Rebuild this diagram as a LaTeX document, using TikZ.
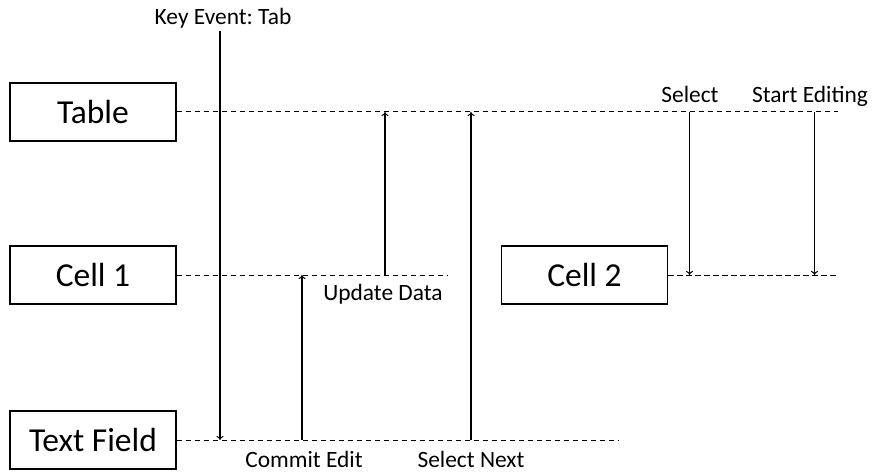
\documentclass[tikz,border=0pt]{standalone}
\usepackage{fontspec}
\setmainfont{Carlito}
\usetikzlibrary{arrows.meta}
\frenchspacing
\begin{document}
\begin{tikzpicture}[x=1pt,y=-1pt,
  obj/.style={draw,line width=1.1pt,minimum width=166pt,minimum height=58pt,
    inner sep=0pt,font=\fontsize{33.5}{36}\selectfont},
  life/.style={line width=1pt,dash pattern=on 5.5pt off 3.5pt},
  msg/.style={line width=1.2pt,-{To[length=4pt,width=7pt,line width=1pt]}},
  lbl/.style={anchor=base,inner sep=0pt,font=\fontsize{23.4}{26}\selectfont}]
  \useasboundingbox (0,0) rectangle (875,473);

  % objects
  \node[obj] (table) at (93,112) {Table};
  \node[obj] (cell1) at (93,275) {Cell 1};
  \node[obj] (tf)    at (93,440) {Text Field};
  \node[obj] (cell2) at (584.5,275) {Cell 2};

  % lifeline ends
  \coordinate (tableEnd) at (838,112);
  \coordinate (cell1End) at (448,275);
  \coordinate (tfEnd)    at (618,440);
  \coordinate (cell2End) at (838,275);

  \draw[life] (table.east) -- (tableEnd);
  \draw[life] (cell1.east) -- (cell1End);
  \draw[life] (tf.east) -- (tfEnd);
  \draw[life] (cell2.east) -- (cell2End);

  % messages
  \coordinate (keyTop) at (220,31);
  \coordinate (commitX) at (302,0);
  \coordinate (updateX) at (385,0);
  \coordinate (nextX)   at (471,0);
  \coordinate (selX)    at (689.5,0);
  \coordinate (editX)   at (814.5,0);

  \draw[msg] (keyTop) -- (keyTop |- tf.east);
  \draw[msg] (commitX |- tf.east) -- (commitX |- cell1.east);
  \draw[msg] (updateX |- cell1.east) -- (updateX |- table.east);
  \draw[msg] (nextX |- tf.east) -- (nextX |- table.east);
  \draw[msg] (selX |- table.east) -- (selX |- cell2.east);
  \draw[msg] (editX |- table.east) -- (editX |- cell2.east);

  % message labels
  \node[lbl] (lkey)    at (223,25)    {Key Event: Tab};
  \node[lbl] (lupdate) at (383,300.7) {Update Data};
  \node[lbl] (lcommit) at (304,467.3) {Commit Edit};
  \node[lbl] (lnext)   at (471,467.3) {Select Next};
  \node[lbl] (lsel)    at (690,102.7) {Select};
  \node[lbl] (ledit)   at (810,102.7) {Start Editing};
\end{tikzpicture}
\end{document}
